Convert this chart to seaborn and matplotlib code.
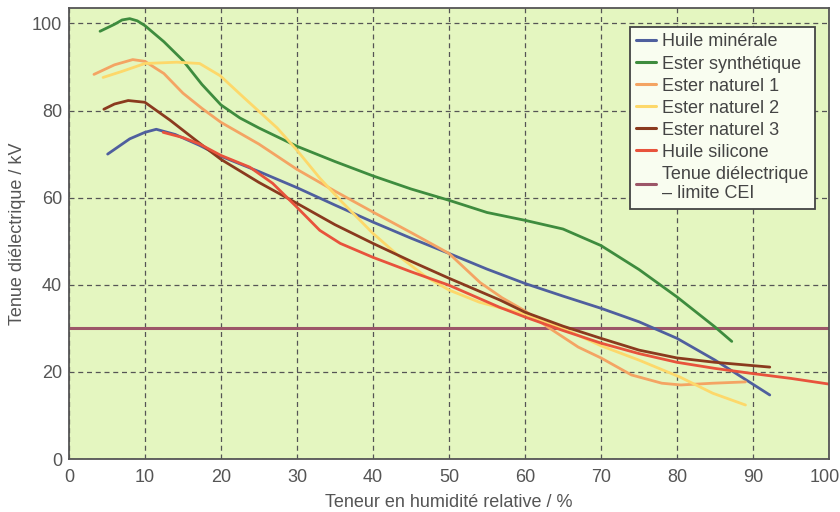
import numpy as np
import pandas as pd
import matplotlib
matplotlib.use("Agg")
import matplotlib.pyplot as plt
import matplotlib.transforms as mtrans
import seaborn as sns
from matplotlib.lines import Line2D

# ---- data ----
mineral_x = [5.1, 8, 10, 11.5, 14, 17.2, 20, 25, 30, 35, 40, 45, 50, 55, 60, 65, 70, 75, 80, 85, 92.2]
mineral_y = [70, 73.5, 75, 75.7, 74.5, 72, 69.5, 66, 62.3, 58.3, 54.4, 50.7, 47.2, 43.6, 40.3, 37.4, 34.6, 31.5, 27.7, 22.7, 14.7]

synth_x = [4.1, 6, 7, 8, 9, 10, 12.5, 15, 17.5, 20, 22.5, 25, 30, 35, 40, 45, 50, 55, 60, 65, 70, 75, 80, 85, 87.2]
synth_y = [98.2, 99.8, 100.8, 101.1, 100.6, 99.5, 95.8, 91.5, 86, 81.3, 78.3, 76, 71.8, 68.3, 65, 62, 59.4, 56.6, 54.8, 52.8, 49, 43.5, 37.2, 30.3, 27]

nat1_x = [3.3, 6, 8.4, 10, 12.5, 15, 17.5, 20, 25, 30, 35, 40, 45, 50, 54.1, 57, 60, 63, 67, 70, 74, 78, 80.5, 84.7, 89]
nat1_y = [88.3, 90.5, 91.7, 91.3, 88.5, 84, 80.5, 77.3, 72.3, 66.5, 61.5, 56.7, 52, 47.2, 40.5, 37, 34, 30.3, 25.7, 23.2, 19.3, 17.4, 17, 17.4, 17.7]

nat2_x = [4.5, 7, 10, 14.2, 17.2, 19.9, 23, 27.4, 30, 33, 35.7, 40, 43.6, 47, 50, 54, 57, 60, 65, 70, 75, 80.4, 84.7, 89]
nat2_y = [87.6, 89, 90.8, 91.1, 90.8, 88, 83, 76, 70.9, 64.5, 59.4, 51.8, 46.3, 41.8, 38.8, 36, 34.6, 33.3, 30, 26, 22.7, 18.8, 15.1, 12.4]

nat3_x = [4.6, 6, 7.8, 10, 13.3, 17.2, 20, 25, 30, 35, 40, 45, 50, 56.7, 60, 65, 70, 75, 80, 85, 92.2]
nat3_y = [80.3, 81.5, 82.3, 81.9, 77.8, 72.5, 68.8, 63.5, 58.7, 53.8, 49.5, 45.4, 41.5, 36.5, 33.7, 30.5, 27.7, 25, 23.2, 22.2, 21.1]

silic_x = [12.4, 15, 17.2, 20, 23.8, 26.8, 30, 33, 35.7, 40, 45, 50, 56.7, 60, 65, 70, 75, 80, 85, 89.6, 95, 100]
silic_y = [75, 73.8, 72.3, 69.7, 67, 63.3, 57.8, 52.5, 49.5, 46.3, 43, 39.9, 34.8, 32.6, 29.5, 26.6, 24.2, 22.2, 20.8, 19.7, 18.5, 17.2]

limit_x = [0, 100]
limit_y = [30, 30]

labels = ["Huile minérale", "Ester synthétique", "Ester naturel 1", "Ester naturel 2",
          "Ester naturel 3", "Huile silicone", "Tenue diélectrique\n– limite CEI"]
colors = ["#4f5f9e", "#3e8c3e", "#f4a463", "#fdd86a", "#8a3a1e", "#e8533c", "#9c5668"]

series = [(mineral_x, mineral_y), (synth_x, synth_y), (nat1_x, nat1_y), (nat2_x, nat2_y),
          (nat3_x, nat3_y), (silic_x, silic_y), (limit_x, limit_y)]

frames = []
for lab, (xs, ys) in zip(labels, series):
    frames.append(pd.DataFrame({"x": xs, "y": ys, "serie": lab}))
df = pd.concat(frames, ignore_index=True)

sns.set_style("white")
plt.rcParams["font.family"] = ["Liberation Sans", "DejaVu Sans"]

fig = plt.figure(figsize=(8.4, 5.12), dpi=100)
ax = fig.add_axes([0.082, 0.1035, 0.905, 0.8805])
ax.set_facecolor("#e4f6c0")

order = [labels[6]] + labels[:6]
for lab in order:
    sub = df[df["serie"] == lab]
    sns.lineplot(data=sub, x="x", y="y", ax=ax, color=colors[labels.index(lab)],
                 lw=2.0 if lab != labels[6] else 2.2, sort=False, estimator=None, legend=False)

ax.set_xlim(0, 100)
ax.set_ylim(0, 103.5)
ax.set_xticks(range(0, 101, 10))
ax.set_yticks(range(0, 101, 20))
ax.grid(True, color="#555555", linestyle=(0, (4, 3)), linewidth=0.9)
ax.set_axisbelow(True)
for s in ax.spines.values():
    s.set_color("#555555")
    s.set_linewidth(1.3)
ax.tick_params(axis="both", labelsize=13, colors="#555555", length=0)
ax.tick_params(axis="x", pad=7)
ax.tick_params(axis="y", pad=5)
last = ax.get_xticklabels()[-1]
last.set_transform(last.get_transform() + mtrans.ScaledTranslation(-4 / 100, 0, fig.dpi_scale_trans))
ax.set_xlabel("Teneur en humidité relative / %", fontsize=13, color="#555555", labelpad=6)
ax.set_ylabel("Tenue diélectrique / kV", fontsize=13, color="#555555", labelpad=4)

handles = [Line2D([0], [0], color=c, lw=2.2) for c in colors]
leg = ax.legend(handles, labels, loc="upper right", bbox_to_anchor=(0.9816, 0.958),
                borderaxespad=0, fontsize=13, frameon=True, fancybox=False, handlelength=1.1,
                handletextpad=0.35, labelspacing=0.28, borderpad=0.35)
leg.get_frame().set_facecolor("#f9fdf0")
leg.get_frame().set_edgecolor("#444444")
leg.get_frame().set_linewidth(1.3)
leg.get_frame().set_alpha(1)
for t in leg.get_texts():
    t.set_color("#444444")

fig.savefig("out.png", dpi=100)
